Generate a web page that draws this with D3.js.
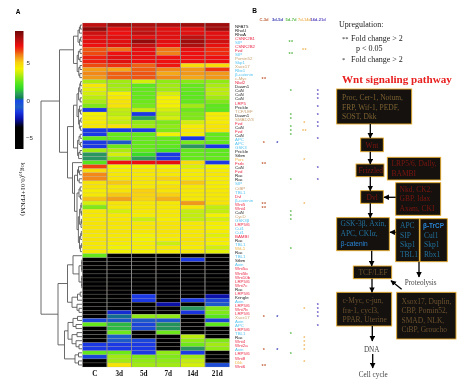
<!DOCTYPE html>
<html>
<head>
<meta charset="utf-8">
<script src="https://cdnjs.cloudflare.com/ajax/libs/d3/7.8.5/d3.min.js"></script>
<style>
html,body{margin:0;padding:0;background:#fff;}
svg{display:block;filter:blur(0.3px);}
</style>
</head>
<body>
<svg id="chart" width="474" height="388"></svg>
<script>
const timepoints = ["C","3d","5d","7d","14d","21d"];
const heatValues = [
[8,8.5,8.3,8.3,8.5,8.5],[8.8,7.5,8,7.5,7.5,8.5],[7.8,7.3,8,7.5,7.5,7.5],[7.5,7.5,7.5,7.5,8,7.5],
[7.5,7.5,8.7,7.5,8.5,7.8],[7.3,7.5,8,7.3,8.3,7.4],[6.5,6.2,7.4,6.2,7.4,7],[6.6,7.3,7.4,6.1,7.3,7],
[7.1,7.5,7.4,7.3,7.3,7.3],[7.1,7.5,7.3,7.3,7.3,7.3],[6.6,6.9,6.4,7.2,4.8,4.8],[5.7,5.6,6.4,6,5.8,6.8],
[6,6.4,6.5,5.6,5.8,5.8],[5.8,6.4,6.5,6,5.6,5.8],[3.3,3.2,3.8,3,2.9,3],[4.5,3.2,2.4,3.2,2.5,3.3],
[4,3.3,2.5,3.2,2.5,3.5],[3.8,4.3,2.5,3.8,2.4,3.5],[3.5,4.5,2.5,4.3,2.4,3.2],[3.3,4.6,2.6,4.3,2.5,2.8],
[2.8,4.6,2.7,4.3,3.2,2.4],[-1.5,3.6,3.6,3.8,2.6,2.4],[4.2,3.5,-1.5,3.5,2.8,4.4],[4.4,3.8,1,3.8,2.8,4.4],
[4.4,3.6,3,2.8,3.8,4.4],[4.5,4.6,3.2,3,4.4,4.6],[-1.5,-1.5,-1.5,2.8,4.5,4.6],[-1.5,2.5,2.5,4.2,4.4,2.5],
[2.5,2.5,2.5,2.5,-1.5,2.5],[-1.5,-1,2.5,2.5,2.7,2.5],[-1.5,2.6,2.5,2.4,0.8,-1.5],[3.2,3.3,2.5,2,2.5,2.4],
[0.8,3.8,1.8,-1.5,2.5,2.4],[0.8,3,0.9,-1.5,2.5,2.5],[2.3,7.3,7.3,7.4,4.8,-1.5],[6.7,4.2,4.2,4.2,3.9,4.2],
[4.8,4.4,4.5,4.5,4.4,4.4],[6,4.5,4.5,4.5,4.4,4.5],[6,4.6,4.6,5.1,4.5,4.4],[4.6,5.2,4.5,4.4,5.2,4.4],
[4.6,4.5,4.5,4.7,4.5,4.4],[4.4,4.6,5.1,4.6,4.5,4.5],[4.5,5.2,5,5.1,4.5,4.5],[5.3,5.7,5,5.5,4.5,4.5],
[3.8,4.6,4.5,4.5,5.8,4.6],[2.8,4.5,4.5,4.5,4.5,3.6],[4.5,3.8,4.5,4.5,3.6,3.6],[4.5,4.5,4.4,4.5,3.6,4.2],
[4.5,4.5,3.7,4.4,3.6,3.8],[4.6,4.6,4.5,4.6,4.5,4.4],[4.6,4.5,4.6,4.6,4.5,4.2],[4.6,4.6,4.5,4.6,4.5,4.4],
[4.5,4.5,4.3,4.5,4.5,4],[4.6,4.5,4.2,4.4,4.6,4.4],[4.5,4.4,4.4,3.7,4.5,4.3],[4.5,4.2,4.4,4.5,4.4,3.8],
[4.5,4.2,4.3,4.4,4.5,4],[2.5,-6,-6,-6,-6,-6],[-6,-6,-6,-6,-1.5,-6],[-6,-6,-6,-6,-6,-6],
[-6,-6,-6,-6,-6,-6],[-6,-6,-6,-6,-6,-6],[-6,-6,-6,-6,-6,-6],[-6,-6,-6,-6,-6,-6],
[-6,-6,-6,-6,-6,-6],[-6,-6,-6,-6,-6,-6],[-6,-6,-6,-6,-6,-6],[-6,-6,-1.5,-6,-6,-2.5],[-6,-6,-1.5,-6,-1.5,-1.3],
[-6,-6,-6,-2.5,-6,-1],[-6,-6,-6,-6,0.8,2.8],[-6,-1.8,-6,-6,-1.6,2.8],[-6,0.2,3,3,-6,2.3],
[-1.3,-1,-1,-1,-6,-1.3],[2.5,1.2,-1.3,0.7,-6,2.4],[-6,1.2,-1.2,0.7,-6,-6],[-6,2.6,-6,2.6,-6,-6],
[-6,-0.8,-6,-6,3.5,-6],[-6,-1,-1.3,-6,3,2.8],[-1.5,-1.5,-1.5,-6,2.6,3.2],[-1.5,-1.5,-1.5,-6,0.8,3],
[2.5,2.6,-1.5,3,-1.5,-6],[-1.3,3.2,2.8,2.8,3.2,-6],[-6,3.2,3,3,3.6,-6],[-6,4.6,3.2,3.2,3.8,-1.2]
];
const geneNames = ["NFAT5","RhoU","RhoA","CSNK2B1","SIP","CSNK2B2","Fzd","SIP","Pomin52","Skp1","Xsox17","Rbx1","β-catenin","c-Myc","Nkd2","Daam1","CaN","CaN","CaN","LRP5","Prickle","TCF/LEF","Daam1","SMAD2/3","Fzd","CaN","Fzd","CaN","APC","APC","GSK3","Prickle","Stbm","Porc","Frzb","CaN","Fzd","Rac","Rac","SIP","CtBP","TBL1","Dvl","β-catenin","Wnt5","Wnt4","CaN","CycD","GSK3β","LRP5/6","Cul1","Cul1","BAMBI","Rac","TBL1","Wif-1","Rac","TBL1","Stbm","Axin","Wnt5a","Wnt5b","Wnt10b","LRP5/6","Wnt7c","Rac","LRP5/6","Kringle","Axin","LRP5/6","Wnt7b","LRP5/6","Xsox17","Axin","APC","LRP5/6","TBL1","Rac","Wnt4","Wnt2a","Axin","LRP5/6","Wnt8","Dkk","Wnt6"];
const nameColor = {k:"#222222",r:"#ea2a48",c:"#58c4f0",t:"#c9a272",o:"#eeb245"};
const tanGenes = ["Pomin52","Xsox17","c-Myc","TCF/LEF","SMAD2/3","CtBP","CycD"];
const orangeGenes = ["Porc","Wif-1","Dkk"];
const cyanGenes = ["SIP","Skp1","Rbx1","β-catenin","APC","GSK3","GSK3β","TBL1","Cul1","Axin"];
const blackGenes = ["NFAT5","RhoU","RhoA","Daam1","CaN","Prickle","Stbm","Rac","Kringle"];
const comparisons = ["C-3d","3d-5d","5d-7d","7d-14d","14d-21d"];
const comparisonColors = ["#c0603a","#3a3ab4","#58b848","#eeb860","#5a4ac0"];
const starsC3d = [[13,"**"],[29,"*"],[34,"**"],[44,"**"],[45,"**"],[72,"*"],[80,"*"],[84,"**"]];
const stars3d5d = [[29,"*"],[72,"*"],[80,"*"]];
const stars5d7d = [[4,"**"],[7,"**"],[16,"*"],[22,"*"],[23,"*"],[25,"*"],[26,"*"],[27,"*"],[38,"*"],[46,"*"],[47,"*"],[48,"*"],[55,"*"],[76,"*"],[81,"*"]];
const stars7d14d = [[6,"**"],[24,"*"],[26,"**"],[33,"*"],[44,"*"],[70,"*"],[77,"*"],[78,"*"],[79,"*"],[80,"*"],[83,"*"]];
const stars14d21d = [[16,"*"],[17,"*"],[18,"*"],[20,"*"],[22,"*"],[24,"*"],[25,"*"],[28,"*"],[35,"*"],[38,"*"],[69,"*"],[70,"*"],[71,"*"],[72,"*"],[74,"*"]];
const colorStops = [-6.5,-3.6,-2.5,-1.5,-0.9,-0.05,0.4,0.8,1.6,2.4,3,3.7,4.25,5.1,5.6,6.1,6.6,7.3,8,9.3];
const colorValues = ["#000000","#000000","#0a10a8","#1a38e4","#1e60c4","#1848e8","#108a48","#2a9560","#30d828","#5ce81c","#90ea14","#ccee0c","#f4f200","#f8d010","#f4a818","#f08018","#ee4a10","#ee1010","#c01010","#6e0606"];
const colorTicks = [5,0,-5];
// cluster tree: [merge height, ...children]; 1 = one heat-map row
const treeSpec = [41,
  [22.5,
    [8.5,
      [4,[2.6,[1.6,1,1],1],[2.4,[1.3,1,1],1]],
      [4.8,[3.6,[2,1,1],[2,1,1]],[3.2,[2,1,1],[2.2,1,1]]]],
    [14.5,
      [8.5,
        [5,[3.4,[2.2,[1.4,1,1],[1,1,1]],[1.8,1,1]],[3.4,[2.4,1,[1.4,1,1]],[2.6,[1.2,1,1],[1.6,1,1]]]],
        [4.4,[3,[1.8,1,1],[1.4,1,1]],[3.4,[2,1,1],1]]],
      [9.5,1,
        [7.5,
          [4.5,[3.5,1,[2.4,1,1]],[2.8,1,1]],
          [5,[3,[1.8,1,1],[1.5,1,1]],
             [3.6,[2.4,[1.2,[0.8,1,1],[0.6,1,1]],[1,[0.6,1,1],1]],[2.5,[1.3,[0.7,1,1],1],[1.6,[0.6,1,1],1]]]]]]]],
  [24,
    [14.5,
      [9,1,[3,[0.3,[0.2,1,1],[0.2,1,1]],[0.3,[0.2,1,1],[0.2,1,1]]]],
      [10,[4.5,[1.8,1,1],1],[5,1,[3,1,1]]]],
    [17.5,
      [14,
        [9,[4.5,1,1],[6,1,1]],
        [10,[5,1,1],[6,1,[3,1,1]]]],
      [7,[3.5,1,1],[3.5,1,1]]]]
];

const svg = d3.select("#chart");
const rows = d3.range(heatValues.length);
const x = d3.scaleBand().domain(timepoints).range([82.5,229.5]);
const y = d3.scaleBand().domain(rows).range([23,367]);
const color = d3.scaleLinear().domain(colorStops).range(colorValues).clamp(true);
const SANS = "'Liberation Sans',Arial,sans-serif", SERIF = "'Liberation Serif','Times New Roman',serif";

// panel letters
svg.append("text").attr("x",18).attr("y",14).attr("font-family",SANS).attr("font-weight","bold").attr("font-size",6.5).attr("text-anchor","middle").text("A");
svg.append("text").attr("x",254.5).attr("y",12.5).attr("font-family",SANS).attr("font-weight","bold").attr("font-size",6.5).attr("text-anchor","middle").text("B");

// colour bar
const barY = d3.scaleLinear().domain([9.3,-6.5]).range([31,149]);
const defs = svg.append("defs");
const grad = defs.append("linearGradient").attr("id","cb").attr("x1",0).attr("x2",0).attr("y1",0).attr("y2",1);
colorStops.slice().reverse().forEach(v=>{
  grad.append("stop").attr("offset",(barY(v)-31)/118).attr("stop-color",color(v));
});
svg.append("rect").attr("x",15).attr("y",31).attr("width",8.5).attr("height",118).attr("fill","url(#cb)");
svg.selectAll(".cbt").data(colorTicks).enter().append("text")
  .attr("x",d=>d<0?26:26.5).attr("y",d=>barY(d)+2.2).attr("font-family",SANS).attr("font-size",6.2).attr("fill","#333")
  .text(d=>d<0?"−"+(-d):d);
const tt = svg.append("text").attr("transform","translate(20.5,189) rotate(90)").attr("text-anchor","middle").attr("font-family",SERIF).attr("font-size",7).attr("fill","#222");
tt.append("tspan").text("log");
tt.append("tspan").attr("font-size",4.8).attr("dy",1.5).text("10");
tt.append("tspan").attr("dy",-1.5).text("(0.01+FPKM)");

// heat map
const cells = rows.flatMap(r=>timepoints.map((t,c)=>({r,t,v:heatValues[r][c]})));
svg.append("g").selectAll("rect").data(cells).enter().append("rect")
  .attr("x",d=>x(d.t)).attr("y",d=>y(d.r)).attr("width",x.bandwidth()).attr("height",y.bandwidth())
  .attr("fill",d=>color(d.v)).attr("stroke","#b0a8a0").attr("stroke-opacity",0.45).attr("stroke-width",0.45);
svg.append("g").selectAll("line").data(timepoints.slice(1)).enter().append("line")
  .attr("x1",d=>x(d)).attr("x2",d=>x(d)).attr("y1",23).attr("y2",367).attr("stroke","#8f8f8f").attr("stroke-width",0.8);
svg.append("g").selectAll("text").data(timepoints).enter().append("text")
  .attr("x",d=>x(d)+x.bandwidth()/2).attr("y",376).attr("text-anchor","middle")
  .attr("font-family",SERIF).attr("font-weight","bold").attr("font-size",7.2).attr("fill","#111").text(d=>d);

// dendrogram
let leafCounter = 0;
function build(s){
  if(typeof s==="number"){ return {h:0}; }
  return {h:s[0],children:s.slice(1).map(build)};
}
const root = d3.hierarchy(build(treeSpec));
const treeX = d3.scaleLinear().domain([0,41]).range([82,41]);
root.eachAfter(n=>{
  if(!n.children){ n.py = y(leafCounter)+y.bandwidth()/2; leafCounter++; }
  else { n.py = (n.children[0].py+n.children[n.children.length-1].py)/2; }
  n.px = treeX(n.data.h);
});
const tree = svg.append("g").attr("fill","none").attr("stroke","#5a5a5a").attr("stroke-width",0.9);
tree.selectAll(".h").data(root.descendants().slice(1)).enter().append("path")
  .attr("d",n=>`M${n.parent.px},${n.py}H${n.px}`);
tree.selectAll(".v").data(root.descendants().filter(n=>n.children)).enter().append("path")
  .attr("d",n=>`M${n.px},${n.children[0].py}V${n.children[n.children.length-1].py}`);

// gene labels
const labelY = d3.scaleLinear().domain([0,84]).range([26,366]);
const geneColor = g => blackGenes.includes(g)?nameColor.k:cyanGenes.includes(g)?nameColor.c:tanGenes.includes(g)?nameColor.t:orangeGenes.includes(g)?nameColor.o:nameColor.r;
svg.append("g").selectAll("text").data(geneNames).enter().append("text")
  .attr("x",235).attr("y",(d,i)=>labelY(i)+1.6).attr("font-family",SANS).attr("font-size",4.4)
  .attr("fill",d=>geneColor(d)).text(d=>d);

// significance columns
const starX = d3.scalePoint().domain(comparisons).range([264,318]);
svg.append("g").selectAll("text").data(comparisons).enter().append("text")
  .attr("x",d=>starX(d)).attr("y",21).attr("text-anchor","middle").attr("font-family",SANS).attr("font-size",4.1).attr("font-weight","bold")
  .attr("fill",(d,i)=>comparisonColors[i]).text(d=>d);
[starsC3d,stars3d5d,stars5d7d,stars7d14d,stars14d21d].forEach((list,i)=>{
  svg.append("g").selectAll("text").data(list).enter().append("text")
    .attr("x",starX(comparisons[i])).attr("y",d=>labelY(d[0])+2).attr("text-anchor","middle")
    .attr("font-family",SANS).attr("font-size",5.4).attr("font-weight","bold").attr("letter-spacing",0.4)
    .attr("fill",comparisonColors[i]).text(d=>d[1]);
});

// legend
const note = (t,xp,yp,size,extra={})=>{
  const e=svg.append("text").attr("x",xp).attr("y",yp).attr("font-family",SERIF).attr("font-size",size).attr("fill",extra.fill||"#222").text(t);
  if(extra.bold) e.attr("font-weight","bold");
  if(extra.anchor) e.attr("text-anchor",extra.anchor);
  return e;
};
note("Upregulation:",339,26.5,8);
note("**",342,41,6.5); note("Fold change > 2",351,41,8);
note("p < 0.05",356,50.5,8);
note("*",342,62,6.5); note("Fold change > 2",351,62,8);
note("Wnt signaling pathway",342,83,11.1,{fill:"#e82020",bold:true});

// pathway diagram
const RED="#7c1612",TAN="#7c6232",BLUE="#22709c",BRIGHT="#2a86d8",DIM="#6b5230";
const pathwayBoxes = [
 {b:[336.7,89,75,35],f:TAN,t:[["Proc, Cer-1, Notum,",100],["FRP, Wif-1, PEDF,",109.6],["SOST, Dkk",119]],tx:342},
 {b:[360.7,138,22.6,13.7],f:RED,t:[["Wnt",147.5]],tx:365.5},
 {b:[356,164,28,12.7],f:RED,t:[["Frizzled",173]],tx:358.5},
 {b:[387.3,157.3,53.4,22.7],f:RED,t:[["LRP5/6, Dally,",166],["BAMBI",176]],tx:391.5},
 {b:[395.7,182.7,45,32.6],f:RED,t:[["Nkd, CK2,",191.5],["GBP, Idax",201],["Axam, CKI",211]],tx:399.5},
 {b:[360.7,190.7,22.6,12.6],f:RED,t:[["Dvl",199.5]],tx:366.5},
 {b:[336.7,217.7,52.6,33],f:BLUE,t:[["GSK-3β, Axin,",226],["APC, CKIα,",236]],tx:340.5},
 {b:[395.7,218.7,23.6,43],f:BLUE,t:[["APC",228],["SIP",237.5],["Skp1",247],["TBL1",256.5]],tx:400},
 {b:[420,218.7,27.3,43],f:BLUE,t:[["Cul1",237.5],["Skp1",247],["Rbx1",256.5]],tx:424},
 {b:[353.3,266,38.4,12.7],f:DIM,t:[["TCF/LEF",275]],tx:358.5},
 {b:[336.7,292.3,55,33.7],f:DIM,t:[["c-Myc, c-jun,",303],["fra-1, cycl3,",312.5],["PPAR, Uterine",322]],tx:342.5},
 {b:[396.7,292.3,59.3,46.7],f:DIM,t:[["Xsox17, Duplin,",303.5],["CBP, Pomin52,",313],["SMAD, NLK,",322.5],["CtBP, Groucho",332]],tx:401.5}
];
const pg = svg.append("g");
pathwayBoxes.forEach(d=>{
  pg.append("rect").attr("x",d.b[0]).attr("y",d.b[1]).attr("width",d.b[2]).attr("height",d.b[3]).attr("fill","#14110e").attr("stroke","#e8ac2a").attr("stroke-width",0.9);
  d.t.forEach(l=>pg.append("text").attr("x",d.tx).attr("y",l[1]).attr("font-family",SERIF).attr("font-size",7.5).attr("fill",d.f).text(l[0]));
});
pg.append("text").attr("x",340.5).attr("y",246).attr("font-family",SANS).attr("font-size",6.6).attr("fill",BRIGHT).text("β-catenin");
pg.append("text").attr("x",423).attr("y",228).attr("font-family",SANS).attr("font-weight","bold").attr("font-size",6.4).attr("fill",BRIGHT).text("β-TrCP");
note("Proteolysis",420.7,285,7.2,{anchor:"middle",fill:"#444"});
note("DNA",371.7,351.5,7.2,{anchor:"middle",fill:"#444"});
note("Cell cycle",373.3,376.5,7.2,{anchor:"middle",fill:"#444"});
defs.append("marker").attr("id","ah").attr("viewBox","0 0 10 10").attr("refX",9).attr("refY",5).attr("markerWidth",4.2).attr("markerHeight",4.6).attr("orient","auto")
  .append("path").attr("d","M0,0L10,5L0,10Z").attr("fill","#000");
const pathwayArrows = [[370.3,124,370.3,138],[370.3,151.7,370.3,164],[370.3,176.7,370.3,190.7],[370.3,203.3,370.3,217.7],[371.7,250.7,371.7,266],[372,278.7,372,292.3],[372.3,326,372.3,341],[372.7,354,372.7,368],[395.7,197.3,384,197.3],[395.7,232.3,390,232.3],[419,261.7,419,277],[401.7,289.3,391,280.7]];
pg.selectAll("line").data(pathwayArrows).enter().append("line")
  .attr("x1",d=>d[0]).attr("y1",d=>d[1]).attr("x2",d=>d[2]).attr("y2",d=>d[3])
  .attr("stroke","#000").attr("stroke-width",1.3).attr("marker-end","url(#ah)");
</script>
</body>
</html>
